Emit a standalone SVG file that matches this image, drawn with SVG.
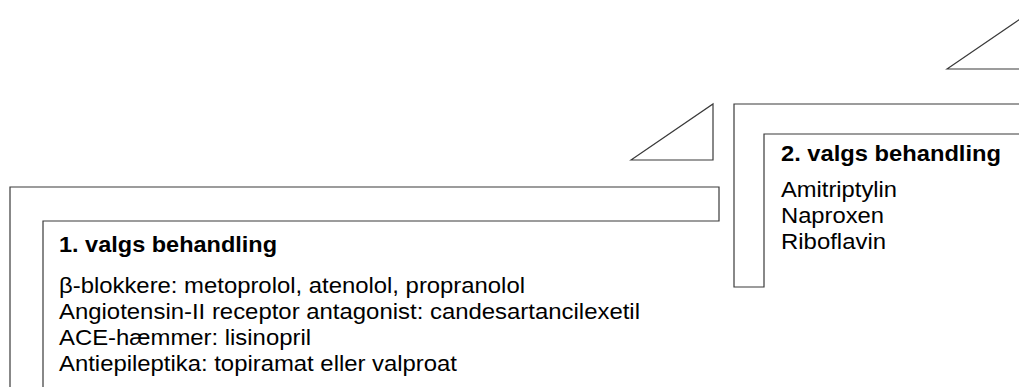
<svg xmlns="http://www.w3.org/2000/svg" width="1019" height="387" viewBox="0 0 1019 387">
<style>
.shape{fill:none;stroke:#3a3a3a;stroke-width:1.2}
.t{font-family:"Liberation Sans",Arial,sans-serif;font-size:22px;fill:#000}
.b{font-weight:bold}
</style>
<rect width="1019" height="387" fill="#fff"/>
<g id="step1">
<path class="shape" d="M10,390 V187 H719 V221 H43 V390"/>
<text class="t b" x="59" y="252" textLength="218" lengthAdjust="spacingAndGlyphs">1. valgs behandling</text>
<text class="t" x="59" y="293" textLength="466" lengthAdjust="spacingAndGlyphs">β-blokkere: metoprolol, atenolol, propranolol</text>
<text class="t" x="59" y="319" textLength="581" lengthAdjust="spacingAndGlyphs">Angiotensin-II receptor antagonist: candesartancilexetil</text>
<text class="t" x="59" y="345" textLength="252" lengthAdjust="spacingAndGlyphs">ACE-hæmmer: lisinopril</text>
<text class="t" x="59" y="371" textLength="398" lengthAdjust="spacingAndGlyphs">Antiepileptika: topiramat eller valproat</text>
</g>
<g id="step2">
<path class="shape" d="M1025,104 H734 V287 H764 V134 H1025"/>
<text class="t b" x="781" y="161" textLength="220" lengthAdjust="spacingAndGlyphs">2. valgs behandling</text>
<text class="t" x="781" y="197" textLength="116" lengthAdjust="spacingAndGlyphs">Amitriptylin</text>
<text class="t" x="781" y="223" textLength="103" lengthAdjust="spacingAndGlyphs">Naproxen</text>
<text class="t" x="781" y="249" textLength="105" lengthAdjust="spacingAndGlyphs">Riboflavin</text>
</g>
<g id="triangle1">
<path class="shape" d="M631,160 L713,104 V160 Z"/>
</g>
<g id="triangle2">
<path class="shape" d="M947,69 L1029,13 V69 Z"/>
</g>
</svg>
